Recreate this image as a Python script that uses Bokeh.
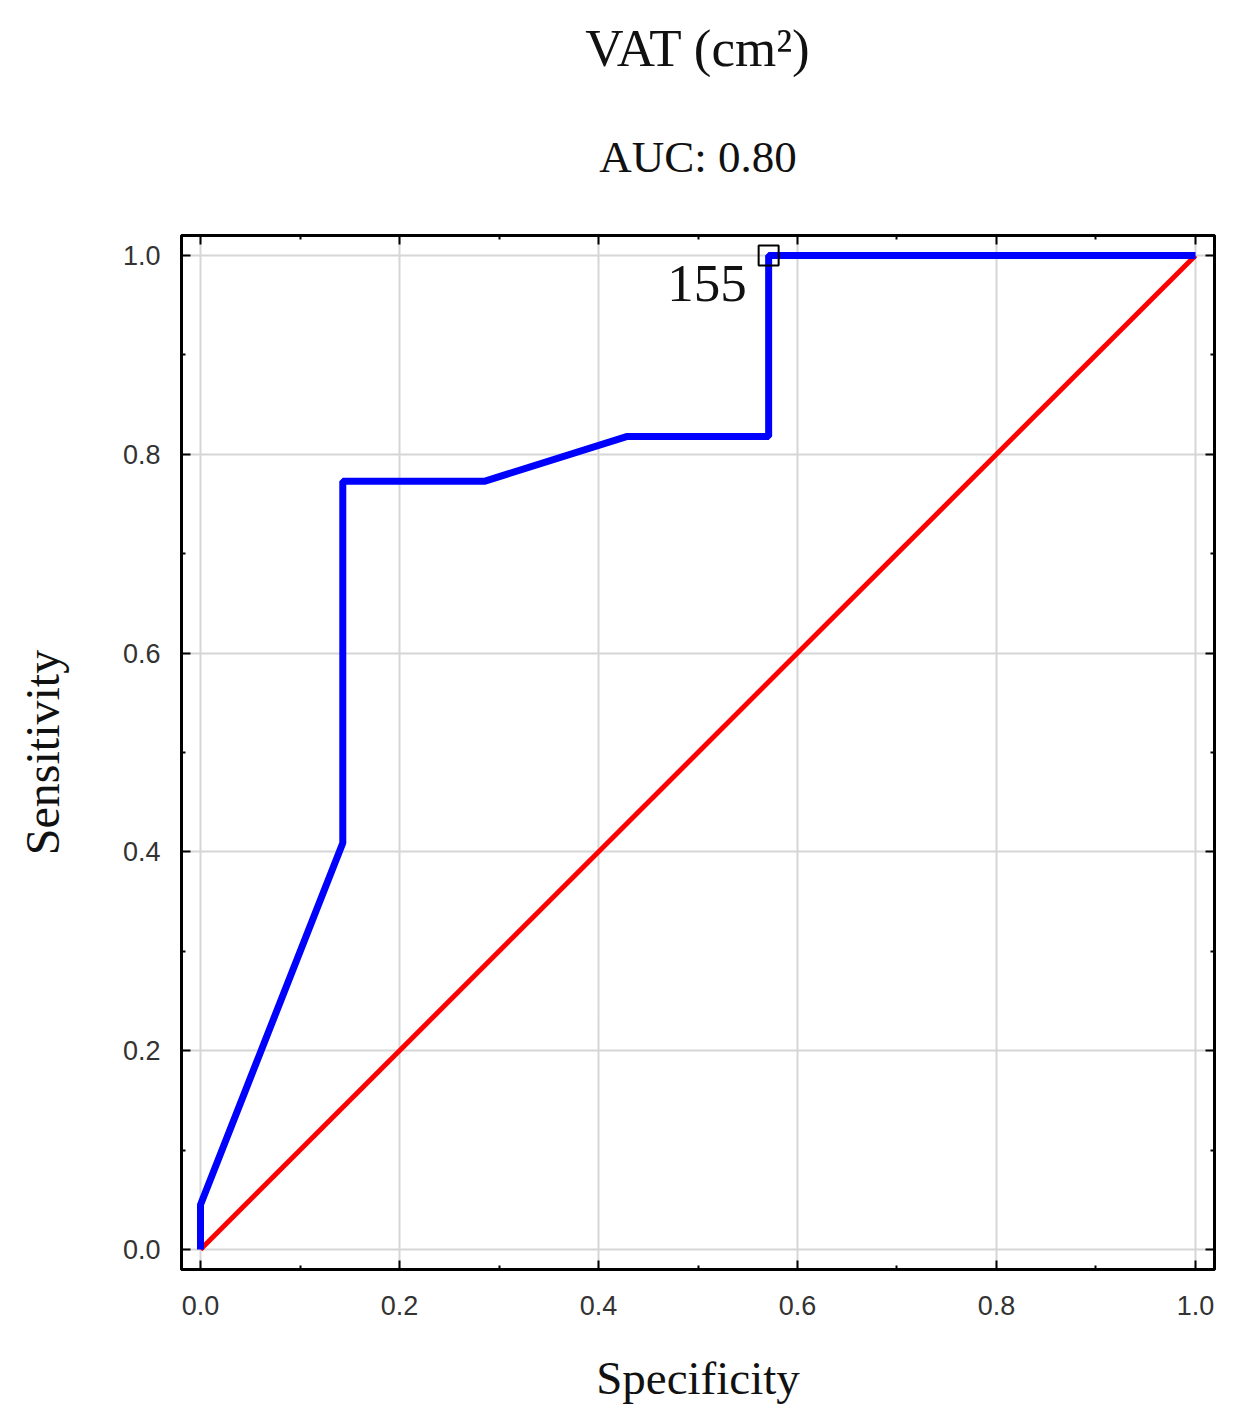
from bokeh.plotting import figure
from bokeh.models import (Range1d, FixedTicker, LinearAxis, Title, PrintfTickFormatter, ColumnDataSource)
from bokeh.core.properties import value
from bokeh.embed import file_html
from bokeh.resources import INLINE

# ROC data (specificity axis as drawn, sensitivity)
roc_x = [0.0, 0.0, 0.143, 0.143, 0.286, 0.429, 0.571, 0.571, 1.0]
roc_y = [0.0, 0.045, 0.409, 0.773, 0.773, 0.818, 0.818, 1.0, 1.0]
ref_x = [0.0, 1.0]
ref_y = [0.0, 1.0]
cut_x = [0.571]
cut_y = [1.0]
cut_label = ["155"]
major_ticks = [0.0, 0.2, 0.4, 0.6, 0.8, 1.0]
minor_ticks = [0.1, 0.3, 0.5, 0.7, 0.9]

SERIF = "Liberation Serif"
SANS = "Liberation Sans"

p = figure(width=1225, height=1406, output_backend="svg", toolbar_location=None,
           x_range=Range1d(-0.0191, 1.0191), y_range=Range1d(-0.0201, 1.0201),
           min_border_left=181, min_border_right=11, min_border_top=235, min_border_bottom=136)
p.title = None
p.background_fill_color = "white"
p.border_fill_color = "white"
p.outline_line_color = "black"
p.outline_line_width = 3

def style_axis(ax, show_labels=True):
    ax.ticker = FixedTicker(ticks=major_ticks, minor_ticks=minor_ticks)
    ax.formatter = PrintfTickFormatter(format="%.1f")
    ax.axis_line_color = "black"
    ax.axis_line_width = 3
    ax.major_tick_in = 9
    ax.major_tick_out = 0
    ax.minor_tick_in = 4
    ax.minor_tick_out = 0
    ax.major_tick_line_width = 2
    ax.minor_tick_line_width = 2
    ax.major_tick_line_color = "black"
    ax.minor_tick_line_color = "black"
    ax.major_label_text_font = SANS
    ax.major_label_text_font_size = "27px"
    ax.major_label_text_color = "#333333"
    ax.axis_label_text_font = SERIF
    ax.axis_label_text_font_size = "47px"
    ax.axis_label_text_font_style = "normal"
    ax.axis_label_text_color = "#111111"
    if not show_labels:
        ax.major_label_text_font_size = "0px"
        ax.major_label_text_alpha = 0
        ax.major_label_standoff = 0

style_axis(p.xaxis[0])
style_axis(p.yaxis[0])
p.xaxis[0].axis_label = "Specificity"
p.yaxis[0].axis_label = "Sensitivity"
p.yaxis[0].axis_label_text_font_size = "48px"
p.xaxis[0].major_label_standoff = 26
p.yaxis[0].major_label_standoff = 21
p.xaxis[0].axis_label_standoff = 34
p.yaxis[0].axis_label_standoff = 51

top_ax = LinearAxis()
right_ax = LinearAxis()
style_axis(top_ax, False)
style_axis(right_ax, False)
p.add_layout(top_ax, "above")
p.add_layout(right_ax, "right")

p.xgrid.ticker = FixedTicker(ticks=major_ticks)
p.ygrid.ticker = FixedTicker(ticks=major_ticks)
p.xgrid.grid_line_color = "#d6d6d6"
p.ygrid.grid_line_color = "#d6d6d6"
p.xgrid.grid_line_width = 2
p.ygrid.grid_line_width = 2

p.line(ref_x, ref_y, line_color="#ff0000", line_width=5)
p.line(roc_x, roc_y, line_color="#0000ff", line_width=7)

src = ColumnDataSource(dict(x=cut_x, y=cut_y, t=cut_label))
p.scatter("x", "y", source=src, marker="square", size=20, fill_color=None,
          line_color="black", line_width=2)
p.text("x", "y", text="t", source=src, text_font=value(SERIF), text_font_size="53px",
       text_align="right", text_baseline="alphabetic", x_offset=-22, y_offset=28,
       text_color="#111111")

p.add_layout(Title(text="AUC: 0.80", text_font=SERIF, text_font_size="45px",
                   text_font_style="normal", align="center", text_color="#111111",
                   standoff=107), "above")
p.add_layout(Title(text="VAT (cm\u00b2)", text_font=SERIF, text_font_size="53px",
                   text_font_style="normal", align="center", text_color="#111111",
                   standoff=0), "above")

open("out.html", "w").write(file_html(p, INLINE))
